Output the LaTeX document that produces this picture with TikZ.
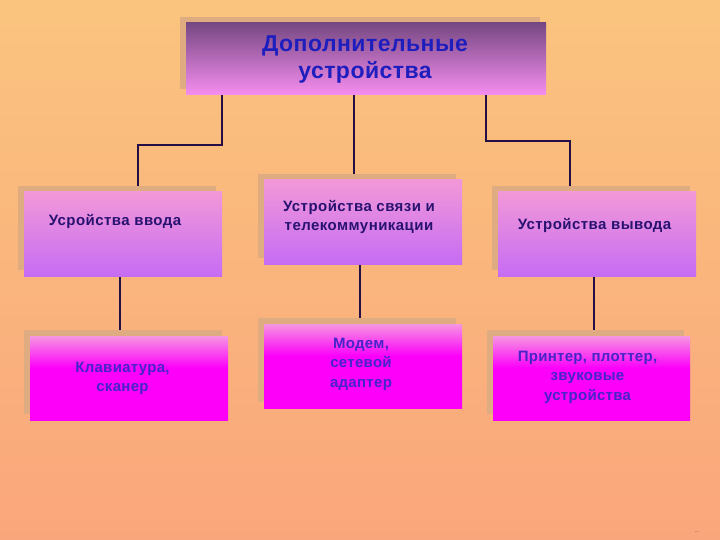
\documentclass[tikz,border=0pt]{standalone}
\usepackage{fontspec}
\setmainfont{Liberation Sans}
\usetikzlibrary{shadows}
\definecolor{bgtop}{RGB}{250,196,126}
\definecolor{bgbot}{RGB}{250,166,124}
\definecolor{shadowc}{RGB}{222,172,128}
\definecolor{tpt}{RGB}{118,72,130}
\definecolor{tpb}{RGB}{246,142,240}
\definecolor{mdt}{RGB}{242,152,216}
\definecolor{mdb}{RGB}{198,108,244}
\definecolor{btt}{RGB}{245,150,225}
\definecolor{btm}{RGB}{252,0,250}
\definecolor{linec}{RGB}{35,15,70}
\definecolor{titlec}{RGB}{30,30,190}
\definecolor{midc}{RGB}{40,18,112}
\definecolor{botc}{RGB}{70,36,200}
\definecolor{dotc}{RGB}{120,20,20}
\pgfdeclareverticalshading{topsh}{100bp}{color(0bp)=(tpb); color(25bp)=(tpb); color(75bp)=(tpt); color(100bp)=(tpt)}
\pgfdeclareverticalshading{midsh}{100bp}{color(0bp)=(mdb); color(25bp)=(mdb); color(75bp)=(mdt); color(100bp)=(mdt)}
\pgfdeclareverticalshading{botsh}{100bp}{color(0bp)=(btm); color(25bp)=(btm); color(56bp)=(btm); color(75bp)=(btt); color(100bp)=(btt)}
\pgfdeclarelayer{bg}
\pgfdeclarelayer{lines}
\pgfsetlayers{bg,lines,main}
\begin{document}
\begin{tikzpicture}[x=1pt,y=-1pt,
  box/.style={rectangle, inner sep=0pt, draw=none,
    drop shadow={shadow xshift=-6pt, shadow yshift=6pt, fill=shadowc, opacity=1}},
  topbox/.style={box, shading=topsh, minimum width=360pt, minimum height=72pt},
  midbox/.style={box, shading=midsh, minimum width=198pt, minimum height=84pt},
  botbox/.style={box, shading=botsh, minimum width=198pt, minimum height=84pt},
  titletext/.style={align=center, inner sep=0pt, text=titlec, font=\bfseries\fontsize{23}{27}\selectfont\addfontfeatures{LetterSpace=2}},
  mtext/.style={align=center, inner sep=0pt, text=midc, font=\bfseries\fontsize{15}{19}\selectfont\addfontfeatures{LetterSpace=3}},
  btext/.style={align=center, inner sep=0pt, text=botc, font=\bfseries\fontsize{15}{19.5}\selectfont\addfontfeatures{LetterSpace=2}},
  conn/.style={draw=linec, line width=2pt}]
\useasboundingbox (0,0) rectangle (720,540);
\begin{pgfonlayer}{bg}
  \shade[top color=bgtop, bottom color=bgbot] (0,0) rectangle (720,540);
\end{pgfonlayer}

\node[topbox] (top) at (366,59) {};
\node[titletext] (title) at (365,59) {Дополнительные\\устройства};

\node[midbox] (in) at (123,234) {};
\node[midbox] (mid) at (363,222) {};
\node[midbox] (out) at (597,234) {};

\node[botbox] (kb) at (129,378) {};
\node[botbox] (modem) at (363,366) {};
\node[botbox, minimum width=197pt] (printer) at (591.5,378) {};

\node[mtext] (intext) at (115,221) {Усройства ввода};
\node[mtext] (midtext) at (359,216.5) {Устройства связи и\\телекоммуникации};
\node[mtext] (outtext) at (594.5,225) {Устройства вывода};

\node[btext] (kbtext) at (122.5,378.5) {Клавиатура,\\сканер};
\node[btext] (modemtext) at (361,364) {Модем,\\сетевой\\адаптер};
\node[btext] (prtext) at (587.5,377) {Принтер, плоттер,\\звуковые\\устройства};

\node[inner sep=0pt, text=dotc, font=\fontsize{5}{5}\selectfont] (dots) at (697,532) {...};

\begin{pgfonlayer}{lines}
  \draw[conn] ([xshift=-144pt]top.south) -- ++(0,50) -| ([xshift=15pt]in.north);
  \draw[conn] ([xshift=-12pt]top.south) -- ([xshift=-9pt]mid.north);
  \draw[conn] ([xshift=120pt]top.south) -- ++(0,46) -| ([xshift=-27pt]out.north);
  \draw[conn] ([xshift=-3pt]in.south) -- ([xshift=-9pt]kb.north);
  \draw[conn] ([xshift=-3pt]mid.south) -- ([xshift=-3pt]modem.north);
  \draw[conn] ([xshift=-3pt]out.south) -- ([xshift=2.5pt]printer.north);
\end{pgfonlayer}
\end{tikzpicture}
\end{document}
